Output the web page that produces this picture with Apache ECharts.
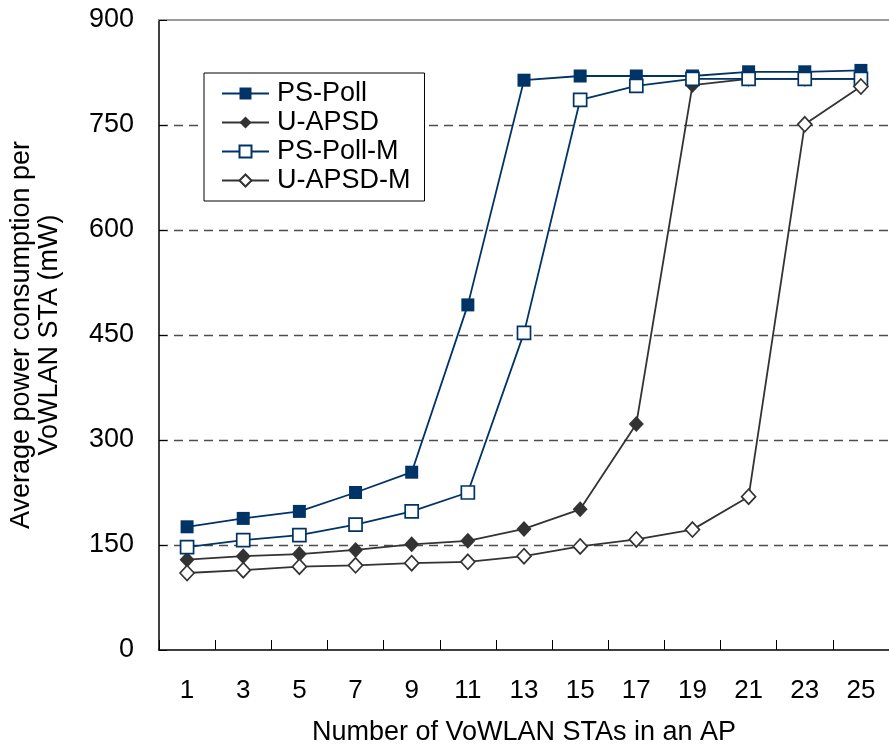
<!DOCTYPE html>
<html>
<head>
<meta charset="utf-8">
<title>Average power consumption per VoWLAN STA</title>
<script src="https://cdn.jsdelivr.net/npm/echarts@6/dist/echarts.min.js"></script>
<style>
  html, body { margin: 0; padding: 0; background: #fff; }
  #chart { width: 889px; height: 751px; }
</style>
</head>
<body>
<div id="chart"></div>
<script>
// Number of VoWLAN stations associated with one AP
const stationCounts = ['1', '3', '5', '7', '9', '11', '13', '15', '17', '19', '21', '23', '25'];

// Average power consumption per station (mW) for each power-save scheme
const psPoll   = [176, 188, 198, 225, 254, 493, 814, 820, 820, 820, 826, 826, 828];
const uApsd    = [129, 134, 137, 143, 151, 156, 173, 201, 323, 807, 816, 816, 816];
const psPollM  = [147, 157, 164, 179, 198, 225, 453, 786, 806, 816, 816, 816, 816];
const uApsdM   = [110, 114, 119, 121, 124, 126, 134, 148, 158, 172, 219, 751, 805];

// Y-axis scale
const yMin = 0, yMax = 900, yStep = 150;

const NAVY = '#003366';
const GRAY = '#333333';
const FONT = 'Liberation Sans, Arial, sans-serif';

function lineSeries(name, data, color, symbol, size, filled) {
  return {
    name: name,
    type: 'line',
    data: data,
    symbol: symbol,
    symbolSize: size,
    showAllSymbol: true,
    lineStyle: { color: color, width: 1.8 },
    itemStyle: {
      color: filled ? color : '#ffffff',
      borderColor: color,
      borderWidth: filled ? 0 : 1.7
    },
    emphasis: { disabled: true },
    animation: false
  };
}

const chart = echarts.init(document.getElementById('chart'), null, { renderer: 'canvas' });

chart.setOption({
  backgroundColor: '#ffffff',
  textStyle: { fontFamily: FONT, color: '#000' },
  grid: { left: 152, top: 20, width: 737, height: 630, containLabel: false },
  legend: {
    orient: 'vertical',
    left: 204,
    top: 73,
    padding: [7, 14, 7, 17],
    itemWidth: 47,
    itemHeight: 15,
    itemGap: 2,
    borderColor: '#000',
    borderWidth: 1,
    backgroundColor: '#fff',
    textStyle: { fontFamily: FONT, fontSize: 27, color: '#000', lineHeight: 27, padding: [0, 0, 0, 3] },
    data: ['PS-Poll', 'U-APSD', 'PS-Poll-M', 'U-APSD-M']
  },
  xAxis: [
    {
      type: 'category',
      data: stationCounts,
      boundaryGap: true,
      position: 'bottom',
      name: 'Number of VoWLAN STAs in an AP',
      nameLocation: 'middle',
      nameGap: 69,
      nameTextStyle: { fontFamily: FONT, fontSize: 27, color: '#000' },
      axisLine: { show: true, lineStyle: { color: '#000', width: 1.5 } },
      axisTick: { show: true, inside: true, length: 10, lineStyle: { color: '#000', width: 1 } },
      axisLabel: { fontFamily: FONT, fontSize: 26, color: '#000', margin: 28, interval: 0 },
      splitLine: { show: false }
    },
    {
      // thin frame line along the top of the plot area
      type: 'category',
      data: stationCounts,
      position: 'top',
      axisLine: { show: true, lineStyle: { color: '#9a9a9a', width: 2 } },
      axisTick: { show: false },
      axisLabel: { show: false },
      splitLine: { show: false }
    }
  ],
  yAxis: {
    type: 'value',
    min: yMin,
    max: yMax,
    interval: yStep,
    name: 'Average power consumption per\nVoWLAN STA (mW)',
    nameLocation: 'middle',
    nameGap: 95,
    nameRotate: 90,
    nameTextStyle: { fontFamily: FONT, fontSize: 27, color: '#000', lineHeight: 28 },
    axisLine: { show: true, lineStyle: { color: '#000', width: 1.5 } },
    axisTick: { show: true, inside: true, length: 8, lineStyle: { color: '#000', width: 1 } },
    axisLabel: { fontFamily: FONT, fontSize: 27, color: '#000', margin: 25 },
    splitLine: {
      show: true,
      showMinLine: false,
      showMaxLine: false,
      lineStyle: { color: '#4d4d4d', width: 1.4, type: [9, 6] }
    }
  },
  series: [
    lineSeries('PS-Poll',   psPoll,  NAVY, 'rect',    13, true),
    lineSeries('U-APSD',    uApsd,   GRAY, 'diamond', [15, 16], true),
    lineSeries('PS-Poll-M', psPollM, NAVY, 'rect',    13, false),
    lineSeries('U-APSD-M',  uApsdM,  GRAY, 'diamond', [14, 15], false)
  ]
});
</script>
</body>
</html>
